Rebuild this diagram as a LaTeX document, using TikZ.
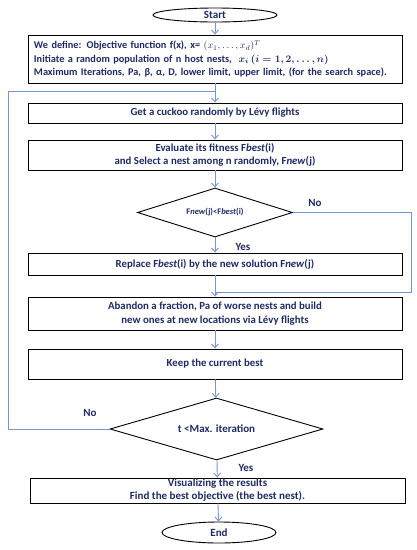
\documentclass[tikz,border=0pt]{standalone}
\usepackage{amsmath}
\usepackage{fontspec}
\setmainfont{Carlito}
\usetikzlibrary{shapes.geometric,arrows.meta}
\definecolor{navytext}{RGB}{31,42,100}
\definecolor{flowblue}{RGB}{118,150,210}
\tikzset{
    box/.style={draw=black, line width=0.9pt, minimum width=374pt, inner sep=1pt,
        align=center, text=navytext, font=\bfseries\fontsize{10.8}{13.5}\selectfont},
    term/.style={draw=black, line width=0.9pt, ellipse, inner sep=0pt,
        text=navytext, font=\bfseries\fontsize{11}{13}\selectfont},
    test/.style={draw=black, line width=0.9pt, diamond, inner sep=0pt, aspect=3,
        text=navytext, font=\bfseries\fontsize{11}{13}\selectfont},
    lbl/.style={text=navytext, font=\bfseries\fontsize{11}{13}\selectfont},
    line/.style={draw=flowblue, line width=0.9pt},
    flow/.style={line, -{Straight Barb[length=4pt,width=7pt]}}
}
\begin{document}
\begin{tikzpicture}[x=1pt, y=-1pt]
    \useasboundingbox (0,0) rectangle (417,550);

    \node[term, minimum width=124pt, minimum height=14pt] (start) at (215,15) {Start};
    \node[box, minimum height=48pt, align=left, text width=362pt,
        font=\bfseries\fontsize{10.3}{13.5}\selectfont] (def) at (215,59)
        {We define: Objective function f(x), x= $(x_1,\dots,x_d)^T$\\
         Initiate a random population of n host nests,\ \ {\boldmath$x_i\,(i=1,2,\dots,n)$}\\
         Maximum Iterations, Pa, β, α, D, lower limit, upper limit, (for the search space).};
    \node[box, minimum height=20pt] (get) at (215,113) {Get a cuckoo randomly by Lévy flights};
    \node[box, minimum height=30pt] (eval) at (215,155)
        {Evaluate its fitness F\textit{best}(i)\\ and Select a nest among n randomly, F\textit{new}(j)};
    \node[test, minimum width=155pt, minimum height=49pt,
        font=\bfseries\fontsize{8.5}{10}\selectfont] (cmp) at (215,212.5)
        {F\textit{new}(j)<F\textit{best}(i)};
    \node[box, minimum height=22pt] (rep) at (215,264)
        {Replace F\textit{best}(i) by the new solution F\textit{new}(j)};
    \node[box, minimum height=33pt] (aband) at (215,313.5)
        {Abandon a fraction, Pa of worse nests and build\\ new ones at new locations via Lévy flights};
    \node[box, minimum height=30pt] (keep) at (215,364) {Keep the current best};
    \node[test, minimum width=213pt, minimum height=62pt] (iter) at (216.5,429) {t <Max. iteration};
    \node[box, minimum width=375pt, minimum height=25pt, inner sep=0pt,
        font=\bfseries\fontsize{11}{13}\selectfont] (vis) at (217.5,490.5)
        {Visualizing the results\\ Find the best objective (the best nest).};
    \node[term, minimum width=114pt, minimum height=21pt] (end) at (219,532.5) {End};

    % joints of the two loops
    \coordinate (j1) at (215,91);
    \coordinate (j2) at (215,292);
    \coordinate (loopL) at (8,91);
    \coordinate (loopR) at (411,292);

    \draw[flow] (start) -- (def);
    \draw[flow] (def) -- (get);
    \draw[flow] (get) -- (eval);
    \draw[flow] (eval) -- (cmp);
    \draw[flow] (cmp) -- (rep);
    \draw[flow] (rep) -- (aband);
    \draw[flow] (aband) -- (keep);
    \draw[flow] (keep) -- (iter);
    \draw[flow] (iter) -- (vis);
    \draw[flow] (vis) -- (end);

    \draw[line] (cmp.east) -| (loopR) -- (j2);
    \draw[line] (iter.west) -| (loopL) -- (j1);

    \node[lbl] (no1) at (315,203) {No};
    \node[lbl] (yes1) at (243,247) {Yes};
    \node[lbl] (no2) at (90,413) {No};
    \node[lbl] (yes2) at (246,468) {Yes};
\end{tikzpicture}
\end{document}
